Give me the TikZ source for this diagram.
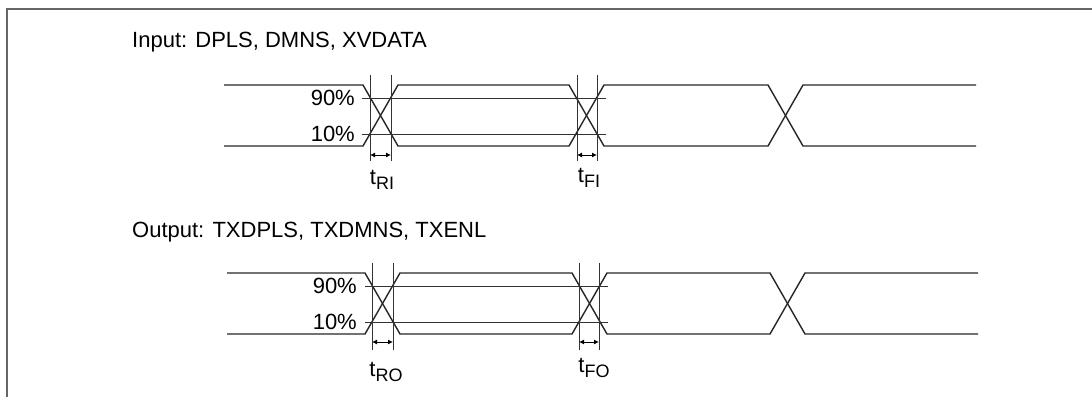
\documentclass[tikz,border=0pt]{standalone}
\usepackage{fontspec}
\setmainfont{Liberation Sans}
\usetikzlibrary{arrows.meta}
\tikzset{
  wave/.style={line width=1.4pt, draw=black!85},
  thin/.style={line width=0.8pt, draw=black!80},
  frame/.style={line width=1.8pt, draw=black!60},
  dim/.style={line width=0.9pt, {Latex[length=5pt,width=5pt]}-{Latex[length=5pt,width=5pt]}},
  lbl/.style={font=\fontsize{22}{24}\selectfont, inner sep=0pt},
  pct/.style={font=\fontsize{22}{24}\selectfont, inner sep=0pt, anchor=east},
  ttl/.style={font=\fontsize{22}{24}\selectfont, inner sep=0pt, anchor=west},
}
\newcommand{\tsub}[1]{t\raisebox{-0.45ex}{\fontsize{18}{20}\selectfont #1}}
\begin{document}
\begin{tikzpicture}[x=1pt,y=-1pt]
\useasboundingbox (0,0) rectangle (1092,397);
% frame
\draw[frame] (7,397) -- (7,9) -- (1092,9);
% ===== Input =====
\node[ttl] (tin) at (132,42) {Input: DPLS, DMNS, XVDATA};
\draw[wave] (224,85) -- (363,85) -- (398,146) -- (569,146) -- (604,85) -- (768,85) -- (803,146) -- (976,146);
\draw[wave] (224,146) -- (363,146) -- (398,85) -- (569,85) -- (604,146) -- (768,146) -- (803,85) -- (976,85);
\draw[thin] (362,98) -- (606,98);
\draw[thin] (362,134) -- (606,134);
\node[pct] (p90a) at (355,98) {90\%};
\node[pct] (p10a) at (355,134) {10\%};
\coordinate (v1t) at (370,75); \coordinate (v1b) at (370,161);
\coordinate (v2t) at (391,75); \coordinate (v2b) at (391,161);
\coordinate (v3t) at (577,75); \coordinate (v3b) at (577,161);
\coordinate (v4t) at (597,75); \coordinate (v4b) at (597,161);
\draw[thin] (v1t) -- (v1b); \draw[thin] (v2t) -- (v2b);
\draw[thin] (v3t) -- (v3b); \draw[thin] (v4t) -- (v4b);
\coordinate (a1) at (370,155); \coordinate (a2) at (391,155);
\coordinate (a3) at (577,155); \coordinate (a4) at (597,155);
\draw[dim] (a1) -- (a2);
\draw[dim] (a3) -- (a4);
\node[lbl] (tri) at (382,180) {\tsub{RI}};
\node[lbl] (tfi) at (589,178) {\tsub{FI}};
% ===== Output =====
\node[ttl] (tout) at (132,232) {Output: TXDPLS, TXDMNS, TXENL};
\draw[wave] (227,273) -- (365,273) -- (400,334) -- (572,334) -- (607,273) -- (770,273) -- (805,334) -- (978,334);
\draw[wave] (227,334) -- (365,334) -- (400,273) -- (572,273) -- (607,334) -- (770,334) -- (805,273) -- (978,273);
\draw[thin] (365,286) -- (608,286);
\draw[thin] (365,322) -- (608,322);
\node[pct] (p90b) at (357,286) {90\%};
\node[pct] (p10b) at (357,322) {10\%};
\coordinate (w1t) at (372,263); \coordinate (w1b) at (372,350);
\coordinate (w2t) at (393,263); \coordinate (w2b) at (393,350);
\coordinate (w3t) at (579,263); \coordinate (w3b) at (579,350);
\coordinate (w4t) at (599,263); \coordinate (w4b) at (599,350);
\draw[thin] (w1t) -- (w1b); \draw[thin] (w2t) -- (w2b);
\draw[thin] (w3t) -- (w3b); \draw[thin] (w4t) -- (w4b);
\coordinate (b1) at (372,342); \coordinate (b2) at (393,342);
\coordinate (b3) at (579,342); \coordinate (b4) at (599,342);
\draw[dim] (b1) -- (b2);
\draw[dim] (b3) -- (b4);
\node[lbl] (tro) at (386,372) {\tsub{RO}};
\node[lbl] (tfo) at (594,368) {\tsub{FO}};
\end{tikzpicture}
\end{document}
